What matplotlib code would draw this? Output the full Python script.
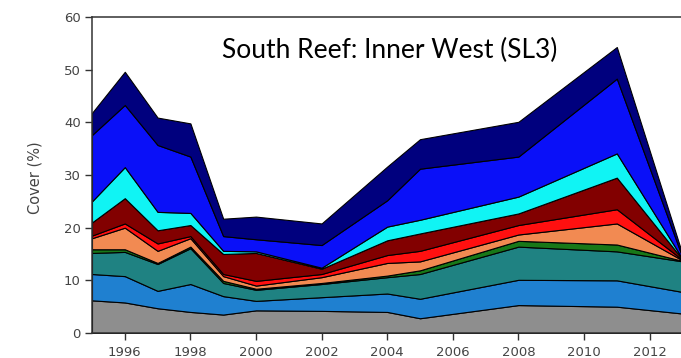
import matplotlib
matplotlib.use("Agg")
import matplotlib.pyplot as plt
import numpy as np

# survey years and per-group cover (%) at each survey, stacked bottom -> top
years = [1995, 1996, 1997, 1998, 1999, 2000, 2002, 2004, 2005, 2008, 2011, 2013]

grey = [6.2, 5.8, 4.7, 4.0, 3.5, 4.3, 4.2, 4.0, 2.8, 5.3, 5.0, 3.7]
mid_blue = [5.0, 5.0, 3.3, 5.3, 3.5, 1.8, 2.6, 3.5, 3.7, 4.8, 5.0, 4.1]
teal = [4.0, 4.6, 5.1, 6.8, 2.5, 2.1, 2.5, 3.1, 4.7, 6.3, 5.5, 5.8]
green = [0.7, 0.5, 0.2, 0.3, 0.4, 0.2, 0.2, 0.3, 0.7, 1.1, 1.3, 0.1]
orange = [2.1, 4.1, 2.3, 1.6, 0.9, 0.6, 1.1, 2.4, 1.7, 1.2, 4.0, 0.1]
red = [0.5, 0.8, 1.4, 0.4, 0.4, 0.9, 0.6, 1.5, 2.0, 1.8, 2.7, 0.1]
dark_red = [2.5, 4.8, 2.5, 2.1, 3.8, 5.3, 1.0, 2.8, 3.3, 2.2, 6.0, 0.1]
cyan = [4.0, 5.9, 3.5, 2.3, 0.6, 0.3, 0.2, 2.6, 2.6, 3.2, 4.6, 0.1]
blue = [12.6, 11.8, 12.7, 10.7, 2.8, 2.3, 4.3, 5.0, 9.7, 7.6, 14.2, 0.3]
navy = [4.2, 6.3, 5.2, 6.3, 3.3, 4.3, 4.1, 6.4, 5.6, 6.6, 6.0, 0.6]

layers = [grey, mid_blue, teal, green, orange, red, dark_red, cyan, blue, navy]
colours = ["#8e8e8e", "#1f80d0", "#1f8282", "#187818", "#f28a52",
           "#ff1010", "#820000", "#10f4f4", "#0a10f8", "#00007e"]

xticks = [1996, 1998, 2000, 2002, 2004, 2006, 2008, 2010, 2012]
yticks = [0, 10, 20, 30, 40, 50, 60]

fig = plt.figure(figsize=(6.81, 3.58), dpi=100)
ax = fig.add_axes([92 / 681, 25 / 358, 590.4 / 681, 316 / 358])

ax.stackplot(years, *[np.asarray(v) for v in layers], colors=colours,
             edgecolor="black", linewidth=0.8)

ax.set_xlim(1995, 2013)
ax.set_ylim(0, 60)
ax.set_xticks(xticks)
ax.set_yticks(yticks)
ax.tick_params(axis="both", direction="out", length=5, width=1,
               color="#333333", labelcolor="#444444", labelsize=9.5)
ax.tick_params(axis="x", pad=4)
ax.tick_params(axis="y", pad=3)

for side in ["left", "bottom", "top"]:
    ax.spines[side].set_color("#333333")
    ax.spines[side].set_linewidth(1.1)
ax.spines["right"].set_visible(False)

ax.set_ylabel("Cover (%)", fontsize=10.5, color="#444444")
ax.yaxis.set_label_coords(-0.083, 0.49)

ax.text(1998.95, 53.7, "South Reef: Inner West (SL3)", fontsize=19,
        family="Lato", color="black", ha="left", va="center")

fig.savefig("out.png", dpi=100)
